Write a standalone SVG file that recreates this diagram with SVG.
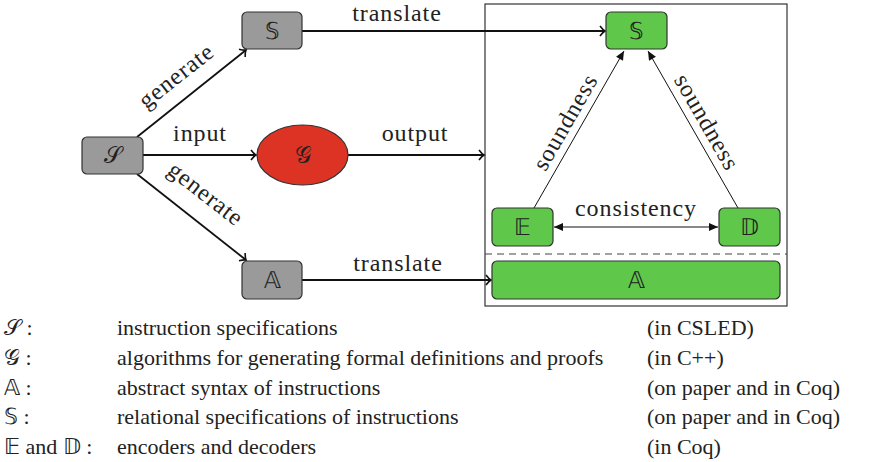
<svg xmlns="http://www.w3.org/2000/svg" width="869" height="462" viewBox="0 0 869 462">
<defs>
<marker id="open" markerUnits="userSpaceOnUse" markerWidth="12" markerHeight="12" viewBox="-10 -6 12 12" refX="0" refY="0" orient="auto">
<path d="M -5 -5 Q -2 -1 0 0 Q -2 1 -5 5" fill="none" stroke="#111" stroke-width="1.6"/>
</marker>
<marker id="fill" markerUnits="userSpaceOnUse" markerWidth="12" markerHeight="12" viewBox="-10 -6 12 12" refX="0" refY="0" orient="auto-start-reverse">
<path d="M -9 -4 L 0 0 L -9 4 Z" fill="#111"/>
</marker>
</defs>
<rect x="485" y="4" width="302" height="302" fill="none" stroke="#333" stroke-width="1.2"/>
<line x1="485" y1="254" x2="787" y2="254" stroke="#444" stroke-width="1.2" stroke-dasharray="7,5"/>
<g id="connectors">
<g stroke="#111" stroke-width="1.8" fill="none" marker-end="url(#open)">
<line x1="137" y1="137" x2="246" y2="50"/>
<line x1="137" y1="174" x2="246" y2="260"/>
<line x1="143" y1="155" x2="256" y2="155"/>
<line x1="348" y1="155" x2="484" y2="155"/>
<line x1="302" y1="31" x2="605" y2="31"/>
<line x1="302" y1="280" x2="491" y2="280"/>
</g>
<g stroke="#111" stroke-width="1" fill="none" marker-end="url(#fill)">
<line x1="534" y1="208" x2="624" y2="51"/>
<line x1="738" y1="208" x2="648" y2="51"/>
<line x1="554" y1="227" x2="718" y2="227" marker-start="url(#fill)"/>
</g>
<g style="font-family:'Times New Roman','Liberation Serif',serif;font-size:24px;letter-spacing:0.9px" fill="#222" text-anchor="middle">
<text transform="translate(181,82) rotate(-38.3)">generate</text>
<text transform="translate(201,200) rotate(38)">generate</text>
<text x="200" y="141">input</text>
<text x="415" y="141">output</text>
<text x="397" y="21">translate</text>
<text x="398" y="271">translate</text>
<text transform="translate(572,126) rotate(-60.2)">soundness</text>
<text transform="translate(700,126) rotate(60.2)">soundness</text>
<text x="636" y="216">consistency</text>
</g>
</g>
<g style="font-family:'Times New Roman','Liberation Serif',serif;font-size:23px" fill="#222" text-anchor="middle">
<g id="node-S">
<rect fill="#9a9a9a" stroke="#333" stroke-width="1.2" x="82" y="137" width="61" height="37" rx="5"/>
<text x="112.5" y="163">𝒮</text>
</g>
<g id="node-G">
<ellipse cx="302.5" cy="155" rx="45.5" ry="30" fill="#dc3324" stroke="#333" stroke-width="1.2"/>
<text x="302.5" y="163">𝒢</text>
</g>
<g id="node-Sgray">
<rect fill="#9a9a9a" stroke="#333" stroke-width="1.2" x="242" y="12" width="60" height="37" rx="5"/>
<text x="272" y="39">𝕊</text>
</g>
<g id="node-Agray">
<rect fill="#9a9a9a" stroke="#333" stroke-width="1.2" x="242" y="261" width="60" height="38" rx="5"/>
<text x="272" y="288">𝔸</text>
</g>
<g id="node-Sgreen">
<rect fill="#5fc84b" stroke="#333" stroke-width="1.2" x="606" y="12" width="61" height="37" rx="5"/>
<text x="636.5" y="39">𝕊</text>
</g>
<g id="node-E">
<rect fill="#5fc84b" stroke="#333" stroke-width="1.2" x="492" y="208" width="61" height="38" rx="5"/>
<text x="522.5" y="235">𝔼</text>
</g>
<g id="node-D">
<rect fill="#5fc84b" stroke="#333" stroke-width="1.2" x="719" y="208" width="61" height="38" rx="5"/>
<text x="749.5" y="235">𝔻</text>
</g>
<g id="node-Agreen">
<rect fill="#5fc84b" stroke="#333" stroke-width="1.2" x="492" y="261" width="288" height="38" rx="5"/>
<text x="636" y="288">𝔸</text>
</g>
</g>
<g id="legend" style="font-family:'Times New Roman','Liberation Serif',serif;font-size:22px" fill="#222">
<text x="4" y="335">𝒮 :</text>
<text x="4" y="365">𝒢 :</text>
<text x="4" y="395">𝔸 :</text>
<text x="4" y="424">𝕊 :</text>
<text x="4" y="454">𝔼 and 𝔻 :</text>
<text x="117" y="335">instruction specifications</text>
<text x="117" y="365">algorithms for generating formal definitions and proofs</text>
<text x="117" y="395">abstract syntax of instructions</text>
<text x="117" y="424">relational specifications of instructions</text>
<text x="117" y="454">encoders and decoders</text>
<text x="647" y="335">(in CSLED)</text>
<text x="647" y="365">(in C++)</text>
<text x="647" y="395">(on paper and in Coq)</text>
<text x="647" y="424">(on paper and in Coq)</text>
<text x="647" y="454">(in Coq)</text>
</g>
</svg>
